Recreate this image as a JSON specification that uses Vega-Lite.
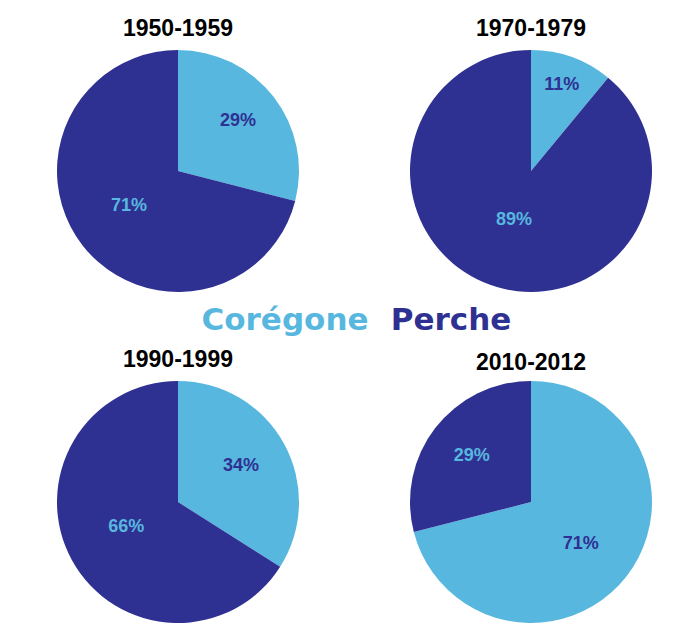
{
  "$schema": "https://vega.github.io/schema/vega-lite/v6.json",
  "padding": {"left": 57, "top": 18, "right": 0, "bottom": 0},
  "background": "white",
  "config": {
    "view": {"stroke": null},
    "title": {"font": "Liberation Sans", "fontSize": 23, "fontWeight": "bold", "color": "#000000", "offset": 9}
  },
  "datasets": {
    "pies": [
      {"period": "1950-1959", "species": "Corégone", "pct": 29, "label": "29%"},
      {"period": "1950-1959", "species": "Perche", "pct": 71, "label": "71%"},
      {"period": "1970-1979", "species": "Corégone", "pct": 11, "label": "11%"},
      {"period": "1970-1979", "species": "Perche", "pct": 89, "label": "89%"},
      {"period": "1990-1999", "species": "Corégone", "pct": 34, "label": "34%"},
      {"period": "1990-1999", "species": "Perche", "pct": 66, "label": "66%"},
      {"period": "2010-2012", "species": "Corégone", "pct": 71, "label": "71%"},
      {"period": "2010-2012", "species": "Perche", "pct": 29, "label": "29%"}
    ],
    "legend": [
      {"name": "Corégone"},
      {"name": "Perche"}
    ]
  },
  "spacing": 13,
  "vconcat": [
    {
      "spacing": 111,
      "hconcat": [
        {
          "title": "1950-1959",
          "width": 242, "height": 242,
          "data": {"name": "pies"},
          "transform": [{"filter": "datum.period === '1950-1959'"}],
          "encoding": {
            "theta": {"field": "pct", "type": "quantitative", "stack": true},
            "order": {"field": "species", "type": "nominal"}
          },
          "layer": [
            {"mark": {"type": "arc"}, "encoding": {"color": {"field": "species", "type": "nominal", "scale": {"domain": ["Corégone", "Perche"], "range": ["#58b7df", "#2e3192"]}, "legend": null}}},
            {"mark": {"type": "text", "radius": 76, "dy": -3, "font": "Liberation Sans", "fontWeight": "bold", "fontSize": 18},
             "encoding": {"text": {"condition": {"test": "datum.pct < 50", "field": "label"}, "value": ""},
                          "color": {"condition": {"test": "datum.species === 'Corégone'", "value": "#2e3192"}, "value": "#58b7df"}}},
            {"mark": {"type": "text", "radius": 62, "dy": -3, "font": "Liberation Sans", "fontWeight": "bold", "fontSize": 18},
             "encoding": {"text": {"condition": {"test": "datum.pct >= 50", "field": "label"}, "value": ""},
                          "color": {"condition": {"test": "datum.species === 'Corégone'", "value": "#2e3192"}, "value": "#58b7df"}}}
          ]
        },
        {
          "title": "1970-1979",
          "width": 242, "height": 242,
          "data": {"name": "pies"},
          "transform": [{"filter": "datum.period === '1970-1979'"}],
          "encoding": {
            "theta": {"field": "pct", "type": "quantitative", "stack": true},
            "order": {"field": "species", "type": "nominal"}
          },
          "layer": [
            {"mark": {"type": "arc"}, "encoding": {"color": {"field": "species", "type": "nominal", "scale": {"domain": ["Corégone", "Perche"], "range": ["#58b7df", "#2e3192"]}, "legend": null}}},
            {"mark": {"type": "text", "radius": 91, "dy": 0, "font": "Liberation Sans", "fontWeight": "bold", "fontSize": 18},
             "encoding": {"text": {"condition": {"test": "datum.pct < 50", "field": "label"}, "value": ""},
                          "color": {"condition": {"test": "datum.species === 'Corégone'", "value": "#2e3192"}, "value": "#58b7df"}}},
            {"mark": {"type": "text", "radius": 50, "dy": 2, "font": "Liberation Sans", "fontWeight": "bold", "fontSize": 18},
             "encoding": {"text": {"condition": {"test": "datum.pct >= 50", "field": "label"}, "value": ""},
                          "color": {"condition": {"test": "datum.species === 'Corégone'", "value": "#2e3192"}, "value": "#58b7df"}}}
          ]
        }
      ]
    },
    {
      "width": 595, "height": 30,
      "data": {"name": "legend"},
      "mark": {"type": "text", "font": "DejaVu Sans", "fontWeight": "bold", "fontSize": 31},
      "encoding": {
        "x": {"field": "name", "type": "nominal", "scale": {"type": "point", "padding": 0, "domain": ["Corégone", "Perche"], "range": [228, 394]}, "axis": null},
        "text": {"field": "name", "type": "nominal"},
        "color": {"field": "name", "type": "nominal", "scale": {"domain": ["Corégone", "Perche"], "range": ["#58b7df", "#2e3192"]}, "legend": null}
      }
    },
    {
      "spacing": 111,
      "hconcat": [
        {
          "title": "1990-1999",
          "width": 242, "height": 242,
          "data": {"name": "pies"},
          "transform": [{"filter": "datum.period === '1990-1999'"}],
          "encoding": {
            "theta": {"field": "pct", "type": "quantitative", "stack": true},
            "order": {"field": "species", "type": "nominal"}
          },
          "layer": [
            {"mark": {"type": "arc"}, "encoding": {"color": {"field": "species", "type": "nominal", "scale": {"domain": ["Corégone", "Perche"], "range": ["#58b7df", "#2e3192"]}, "legend": null}}},
            {"mark": {"type": "text", "radius": 72, "dy": -1, "font": "Liberation Sans", "fontWeight": "bold", "fontSize": 18},
             "encoding": {"text": {"condition": {"test": "datum.pct < 50", "field": "label"}, "value": ""},
                          "color": {"condition": {"test": "datum.species === 'Corégone'", "value": "#2e3192"}, "value": "#58b7df"}}},
            {"mark": {"type": "text", "radius": 59, "dy": -3, "font": "Liberation Sans", "fontWeight": "bold", "fontSize": 18},
             "encoding": {"text": {"condition": {"test": "datum.pct >= 50", "field": "label"}, "value": ""},
                          "color": {"condition": {"test": "datum.species === 'Corégone'", "value": "#2e3192"}, "value": "#58b7df"}}}
          ]
        },
        {
          "title": {"text": "2010-2012", "offset": 6},
          "width": 242, "height": 242,
          "data": {"name": "pies"},
          "transform": [{"filter": "datum.period === '2010-2012'"}],
          "encoding": {
            "theta": {"field": "pct", "type": "quantitative", "stack": true},
            "order": {"field": "species", "type": "nominal"}
          },
          "layer": [
            {"mark": {"type": "arc"}, "encoding": {"color": {"field": "species", "type": "nominal", "scale": {"domain": ["Corégone", "Perche"], "range": ["#58b7df", "#2e3192"]}, "legend": null}}},
            {"mark": {"type": "text", "radius": 75, "dy": 0, "font": "Liberation Sans", "fontWeight": "bold", "fontSize": 18},
             "encoding": {"text": {"condition": {"test": "datum.pct < 50", "field": "label"}, "value": ""},
                          "color": {"condition": {"test": "datum.species === 'Corégone'", "value": "#2e3192"}, "value": "#58b7df"}}},
            {"mark": {"type": "text", "radius": 63, "dy": 3, "font": "Liberation Sans", "fontWeight": "bold", "fontSize": 18},
             "encoding": {"text": {"condition": {"test": "datum.pct >= 50", "field": "label"}, "value": ""},
                          "color": {"condition": {"test": "datum.species === 'Corégone'", "value": "#2e3192"}, "value": "#58b7df"}}}
          ]
        }
      ]
    }
  ]
}
